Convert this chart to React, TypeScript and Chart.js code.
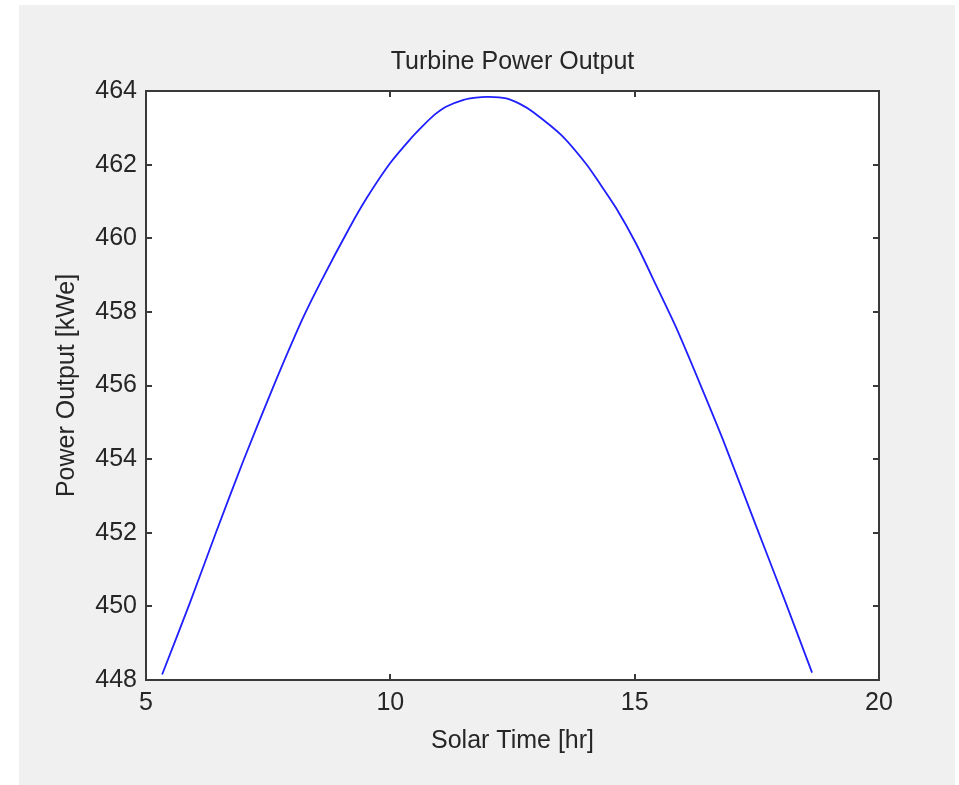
import React, { useEffect, useRef } from "react";
import { Chart, registerables } from "chart.js";

Chart.register(...registerables);

// Data
const solarTime = [
  5.33, 5.9, 6.43, 6.99, 7.6, 8.2, 8.59, 9.17, 9.51, 9.99, 10.4, 10.65, 10.9,
  11.15, 11.5, 11.75, 12.0, 12.37, 12.65, 12.92, 13.5, 14.0, 14.28, 14.62,
  15.03, 15.44, 15.85, 16.32, 16.8, 17.48, 18.09, 18.63,
];
const powerOutput = [
  448.15, 450.1, 452.0, 453.95, 455.95, 457.8, 458.85, 460.3, 461.08, 462.03,
  462.68, 463.03, 463.35, 463.58, 463.76, 463.82, 463.84, 463.8, 463.65,
  463.43, 462.8, 462.03, 461.5, 460.82, 459.85, 458.72, 457.57, 456.1, 454.55,
  452.2, 450.1, 448.2,
];
const xTicks = [5, 10, 15, 20];
const yTicks = [448, 450, 452, 454, 456, 458, 460, 462, 464];
const chartTitle = "Turbine Power Output";
const xLabel = "Solar Time [hr]";
const yLabel = "Power Output [kWe]";

const FONT_FAMILY = "'Liberation Sans', Arial, Helvetica, sans-serif";
const TEXT_COLOR = "#262626";
const AXIS_COLOR = "#3a3a3a";
const LINE_COLOR = "#1f1fff";

const plotBackground = {
  id: "plotBackground",
  beforeDraw(chart: any) {
    const { ctx, chartArea } = chart;
    if (!chartArea) return;
    ctx.save();
    ctx.fillStyle = "#ffffff";
    ctx.fillRect(
      chartArea.left,
      chartArea.top,
      chartArea.right - chartArea.left,
      chartArea.bottom - chartArea.top
    );
    ctx.restore();
  },
};

function makeAxis(
  position: string,
  tickValues: number[],
  min: number,
  max: number,
  extra: any
) {
  return {
    type: "linear",
    position,
    min,
    max,
    afterBuildTicks: (scale: any) => {
      scale.ticks = tickValues.map((v) => ({ value: v }));
    },
    grid: {
      display: true,
      drawOnChartArea: false,
      drawTicks: true,
      tickLength: -6,
      tickWidth: 2,
      tickColor: AXIS_COLOR,
      color: AXIS_COLOR,
      lineWidth: 2,
    },
    border: { display: true, color: AXIS_COLOR, width: 2 },
    ...extra,
  };
}

export default function App() {
  const canvasRef = useRef<HTMLCanvasElement | null>(null);

  useEffect(() => {
    const canvas = canvasRef.current;
    if (!canvas) return;
    const font = { family: FONT_FAMILY, size: 25, weight: "normal" as const };

    const chart = new Chart(canvas, {
      type: "scatter",
      data: {
        datasets: [
          {
            label: "Power",
            data: solarTime.map((t, i) => ({ x: t, y: powerOutput[i] })),
            showLine: true,
            borderColor: LINE_COLOR,
            borderWidth: 1.8,
            pointRadius: 0,
            pointHoverRadius: 0,
            fill: false,
            tension: 0.25,
            xAxisID: "x",
            yAxisID: "y",
          } as any,
        ],
      },
      options: {
        animation: false,
        responsive: false,
        devicePixelRatio: 1,
        events: [],
        layout: { padding: { left: 0, top: 0, right: 76, bottom: 0 } },
        plugins: {
          legend: { display: false },
          tooltip: { enabled: false },
          title: {
            display: true,
            fullSize: false,
            text: chartTitle,
            color: TEXT_COLOR,
            font,
            padding: { top: 42, bottom: 14 },
          },
        },
        scales: {
          x: makeAxis("bottom", xTicks, 5, 20, {
            afterFit: (s: any) => {
              s.height = 105;
            },
            ticks: {
              padding: 14,
              color: TEXT_COLOR,
              font,
              maxRotation: 0,
              autoSkip: false,
            },
            title: {
              display: true,
              text: xLabel,
              color: TEXT_COLOR,
              font,
              padding: { top: 0, bottom: 29 },
            },
          }),
          y: makeAxis("left", yTicks, 448, 464, {
            afterFit: (s: any) => {
              s.width = 127;
            },
            ticks: {
              padding: 15,
              color: TEXT_COLOR,
              font,
              autoSkip: false,
            },
            title: {
              display: true,
              text: yLabel,
              color: TEXT_COLOR,
              font,
              padding: { top: 33, bottom: 0 },
            },
          }),
          x2: makeAxis("top", xTicks, 5, 20, {
            afterFit: (s: any) => {
              s.height = 0;
            },
            ticks: { display: false },
          }),
          y2: makeAxis("right", yTicks, 448, 464, {
            afterFit: (s: any) => {
              s.width = 0;
            },
            ticks: { display: false },
          }),
        } as any,
      },
      plugins: [plotBackground],
    });

    return () => {
      chart.destroy();
    };
  }, []);

  return (
    <div
      style={{
        position: "absolute",
        left: 0,
        top: 0,
        width: 959,
        height: 785,
        background: "#ffffff",
        overflow: "hidden",
      }}
    >
      <div
        style={{
          position: "absolute",
          left: 19,
          top: 5,
          width: 936,
          height: 780,
          background: "#f0f0f0",
        }}
      >
        <canvas
          ref={canvasRef}
          width={936}
          height={780}
          style={{ display: "block", width: 936, height: 780 }}
        />
      </div>
    </div>
  );
}
